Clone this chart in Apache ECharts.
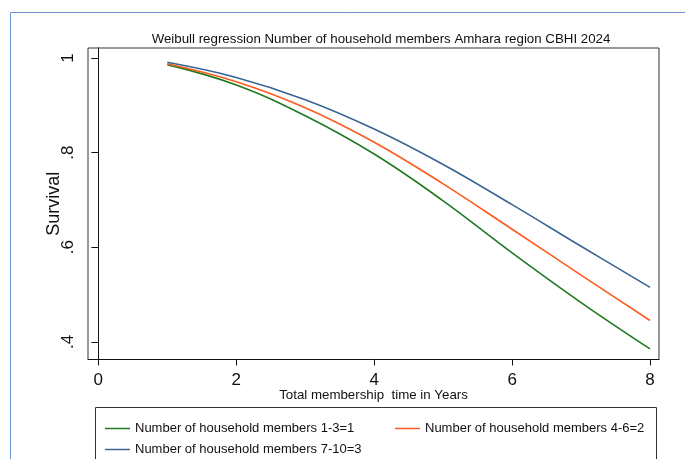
<!DOCTYPE html>
<html>
<head>
<meta charset="utf-8">
<script src="https://cdn.jsdelivr.net/npm/echarts@6/dist/echarts.min.js"></script>
<style>
  html, body { margin: 0; padding: 0; background: #fff; }
  #chart { width: 685px; height: 459px; }
</style>
</head>
<body>
<div id="chart"></div>
<script>
// survival, years 1..8
const years = [1, 2, 3, 4, 5, 6, 7, 8]
const small = [0.986, 0.943, 0.878, 0.797, 0.698, 0.588, 0.483, 0.385]
const medium = [0.988, 0.950, 0.895, 0.822, 0.734, 0.638, 0.541, 0.445]
const large = [0.991, 0.959, 0.912, 0.850, 0.775, 0.690, 0.602, 0.515]
const xTicks = [0, 2, 4, 6, 8]
const yTicks = [0.4, 0.6, 0.8, 1]
const names = [
  'Number of household members 1-3=1',
  'Number of household members 4-6=2',
  'Number of household members 7-10=3'
]
const colors = ['#1f7a1f', '#ff5a1e', '#3a6495']

const pairs = (vals) => years.map((y, i) => [y, vals[i]])

const sans = '"Liberation Sans", Arial, sans-serif'

const legendAt = (i, left, top) => ({
  data: [names[i]],
  left, top,
  icon: 'rect',
  itemWidth: 25,
  itemHeight: 1.5,
  itemGap: 0,
  textStyle: { fontFamily: sans, fontSize: 13, color: '#111' }
})

const chart = echarts.init(document.getElementById('chart'), null, { renderer: 'canvas' })
chart.setOption({
  animation: false,
  backgroundColor: '#fff',
  title: {
    text: 'Weibull regression Number of household members Amhara region CBHI 2024',
    left: 376, top: 28, textAlign: 'center',
    textStyle: { fontFamily: sans, fontSize: 13.3, fontWeight: 'normal', color: '#111' }
  },
  graphic: [
    { type: 'rect', shape: { x: 10.5, y: 12.5, width: 700, height: 500 },
      style: { fill: null, stroke: '#6a93d4', lineWidth: 1 }, silent: true },
    { type: 'rect', shape: { x: 95.5, y: 407.5, width: 561, height: 80 },
      style: { fill: null, stroke: '#333', lineWidth: 1 }, silent: true }
  ],
  legend: [legendAt(0, 100, 417), legendAt(1, 390, 417), legendAt(2, 100, 438)],
  grid: { left: 88, top: 48, right: 26, bottom: 99.5, show: true, borderColor: '#333', borderWidth: 1 },
  xAxis: {
    type: 'value', min: -0.15, max: 8.13,
    name: 'Total membership  time in Years',
    nameLocation: 'middle', nameGap: 29, nameMoveOverlap: false,
    nameTextStyle: { fontFamily: sans, fontSize: 13.3, color: '#111' },
    axisLine: { lineStyle: { color: '#111' } },
    axisTick: { customValues: xTicks, length: 6, lineStyle: { color: '#111' } },
    axisLabel: { customValues: xTicks, fontFamily: sans, fontSize: 17, color: '#111', margin: 12 },
    splitLine: { show: false }
  },
  yAxis: {
    type: 'value', min: 0.3626, max: 1.0212,
    name: 'Survival',
    nameLocation: 'middle', nameGap: 25, nameMoveOverlap: false,
    nameTextStyle: { fontFamily: sans, fontSize: 18, color: '#111' },
    axisLine: { show: true, lineStyle: { color: '#111' } },
    axisTick: { show: true, customValues: yTicks, length: 7, lineStyle: { color: '#111' } },
    axisLabel: {
      customValues: yTicks, rotate: 90, margin: 11,
      fontFamily: sans, fontSize: 17, color: '#111',
      formatter: v => v >= 1 ? '1' : '.' + Math.round(v * 10)
    },
    splitLine: { show: false }
  },
  series: [small, medium, large].map((vals, i) => ({
    name: names[i],
    type: 'line',
    data: pairs(vals),
    smooth: 0.4,
    showSymbol: false,
    color: colors[i],
    lineStyle: { width: 1.6, color: colors[i] }
  }))
})
</script>
</body>
</html>
